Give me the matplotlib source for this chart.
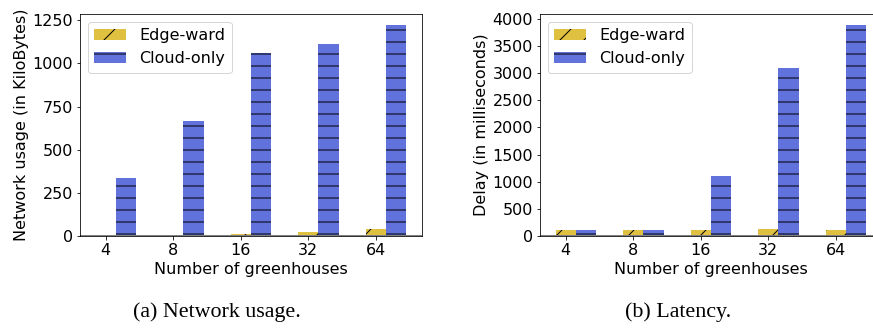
import matplotlib
matplotlib.use("Agg")
import matplotlib.pyplot as plt
import numpy as np

categories = ["4", "8", "16", "32", "64"]
net_edge = [3, 3, 10, 23, 39]
net_cloud = [336, 667, 1060, 1114, 1225]
lat_edge = [105, 105, 105, 130, 105]
lat_cloud = [105, 105, 1108, 3101, 3895]
net_yticks = [0, 250, 500, 750, 1000, 1250]
lat_yticks = [0, 500, 1000, 1500, 2000, 2500, 3000, 3500, 4000]

edge_color = "#E0C040"
cloud_color = "#6272DC"

W, H = 873, 328
dpi = 72
fig = plt.figure(figsize=(W / dpi, H / dpi), dpi=dpi)
plt.rcParams['hatch.linewidth'] = 1.0

fs = 16
ax1 = fig.add_axes([80 / W, (H - 236) / H, 341.7 / W, 222 / H])
ax2 = fig.add_axes([540 / W, (H - 236) / H, 341.7 / W, 222 / H])

x = np.arange(len(categories))
w = 0.3
for ax, e, c, ylabel, yt in [(ax1, net_edge, net_cloud, "Network usage (in KiloBytes)", net_yticks),
                             (ax2, lat_edge, lat_cloud, "Delay (in milliseconds)", lat_yticks)]:
    ax.bar(x, e, w, color=edge_color, hatch="/", edgecolor="black", linewidth=0, label="Edge-ward")
    ax.bar(x + w, c, w, color=cloud_color, hatch="-", edgecolor="black", linewidth=0, label="Cloud-only")
    ax.axhline(0, color="grey", linewidth=2)
    ax.set_xticks(x)
    ax.set_xticklabels(categories, fontsize=fs)
    ax.set_yticks(yt)
    ax.tick_params(axis="y", labelsize=fs)
    ax.set_xlabel("Number of greenhouses", fontsize=fs, labelpad=4)
    ax.set_ylabel(ylabel, fontsize=fs, labelpad=3)
    ax.legend(loc="upper left", fontsize=fs)

fig.text(217 / W, 1 - 312 / H, "(a) Network usage.", fontsize=22, family="Liberation Serif",
         ha="center", va="center")
fig.text(678 / W, 1 - 312 / H, "(b) Latency.", fontsize=22, family="Liberation Serif",
         ha="center", va="center")

fig.savefig("out.png", dpi=dpi)
